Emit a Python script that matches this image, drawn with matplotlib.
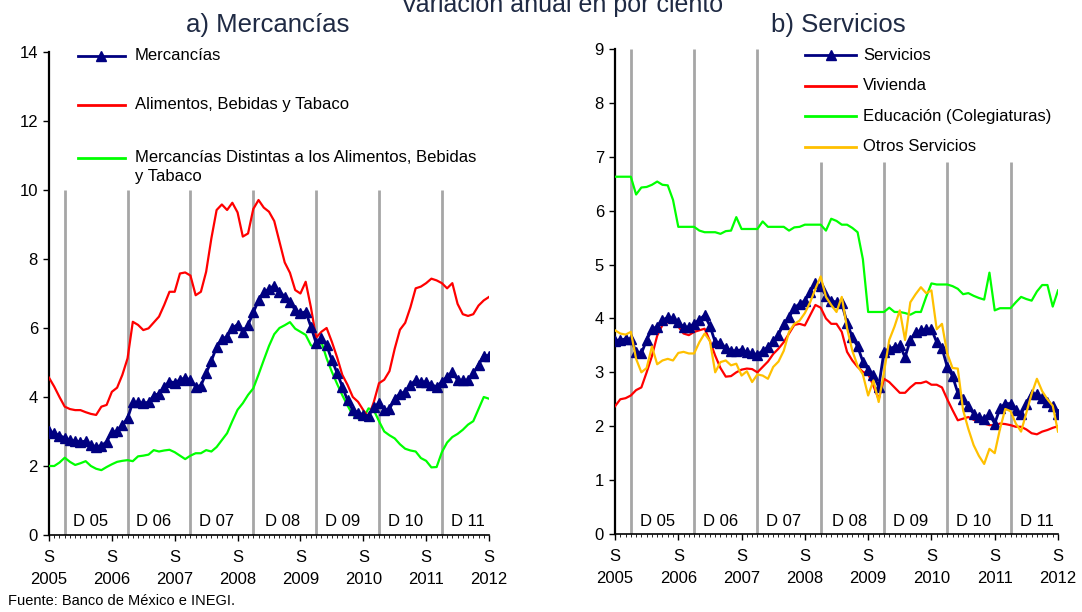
import numpy as np
import matplotlib
matplotlib.use('Agg')
import matplotlib.pyplot as plt

plt.rcParams['font.family'] = ['Liberation Sans', 'DejaVu Sans']

# meses desde sep-2005 hasta sep-2012 (85 observaciones)
x = np.arange(85)
year_ticks = [0, 12, 24, 36, 48, 60, 72, 84]
year_labels = ['S\n2005', 'S\n2006', 'S\n2007', 'S\n2008', 'S\n2009', 'S\n2010', 'S\n2011', 'S\n2012']
dec_idx = [3, 15, 27, 39, 51, 63, 75]
dec_labels = ['D 05', 'D 06', 'D 07', 'D 08', 'D 09', 'D 10', 'D 11']
dec_label_pos = [8, 20, 32, 44.5, 56, 68, 80]

# a) Mercancias
mercancias = [3.02, 2.95, 2.88, 2.82, 2.75, 2.72, 2.7, 2.72, 2.61, 2.56, 2.59, 2.7, 2.98, 3.01,
              3.19, 3.38, 3.85, 3.85, 3.82, 3.85, 4.04, 4.1, 4.3, 4.44, 4.42, 4.49, 4.56, 4.49,
              4.3, 4.33, 4.69, 5.05, 5.45, 5.68, 5.75, 6.0, 6.1, 5.88, 6.09, 6.45, 6.8, 7.03,
              7.13, 7.23, 7.05, 6.91, 6.76, 6.52, 6.43, 6.47, 6.04, 5.56, 5.7, 5.5, 5.07,
              4.7, 4.3, 3.9, 3.62, 3.55, 3.48, 3.45, 3.7, 3.82, 3.62, 3.65, 3.95, 4.1, 4.15,
              4.35, 4.49, 4.44, 4.44, 4.35, 4.3, 4.44, 4.59, 4.72, 4.49, 4.49, 4.49, 4.69,
              4.93, 5.2, 5.2]
alimentos = [4.56, 4.3, 4.0, 3.72, 3.65, 3.62, 3.62, 3.56, 3.51, 3.48, 3.72, 3.77, 4.15, 4.27,
             4.64, 5.12, 6.18, 6.09, 5.94, 5.99, 6.16, 6.33, 6.67, 7.05, 7.05, 7.58, 7.61, 7.52,
             6.95, 7.05, 7.63, 8.6, 9.42, 9.58, 9.42, 9.63, 9.35, 8.65, 8.74, 9.45, 9.71, 9.49,
             9.37, 9.1, 8.5, 7.9, 7.6, 7.1, 7.0, 7.34, 6.6, 5.72, 5.89, 6.0, 5.6,
             5.15, 4.64, 4.35, 4.0, 3.86, 3.62, 3.42, 3.85, 4.4, 4.5, 4.75, 5.4, 5.95, 6.15,
             6.6, 7.15, 7.2, 7.3, 7.43, 7.38, 7.3, 7.15, 7.3, 6.7, 6.4, 6.35, 6.4, 6.65,
             6.8, 6.9]
distintas = [2.0, 2.0, 2.1, 2.24, 2.12, 2.03, 2.08, 2.14, 2.0, 1.92, 1.88, 1.97, 2.05, 2.12,
             2.15, 2.17, 2.14, 2.28, 2.3, 2.33, 2.46, 2.42, 2.45, 2.47, 2.4, 2.3, 2.2, 2.3,
             2.37, 2.37, 2.46, 2.42, 2.55, 2.75, 2.95, 3.3, 3.63, 3.82, 4.06, 4.25, 4.65, 5.07,
             5.48, 5.82, 6.0, 6.08, 6.17, 5.98, 5.89, 5.8, 5.5, 5.42, 5.6, 5.12, 4.73,
             4.38, 4.05, 3.75, 3.48, 3.38, 3.38, 3.67, 3.62, 3.3, 3.0, 2.89, 2.8, 2.63, 2.5,
             2.45, 2.42, 2.23, 2.15, 1.96, 1.97, 2.4, 2.68, 2.84, 2.93, 3.05, 3.2, 3.3, 3.65,
             4.0, 3.95]

# b) Servicios
servicios = [3.59, 3.6, 3.62, 3.62, 3.38, 3.35, 3.6, 3.8, 3.85, 3.97, 4.02, 4.0, 3.93, 3.84,
             3.84, 3.9, 3.98, 4.06, 3.86, 3.56, 3.55, 3.45, 3.4, 3.4, 3.42, 3.37, 3.35, 3.33,
             3.4, 3.47, 3.58, 3.7, 3.9, 4.02, 4.2, 4.27, 4.33, 4.49, 4.66, 4.6, 4.42, 4.33,
             4.3, 4.28, 3.92, 3.65, 3.48, 3.2, 3.05, 2.95, 2.73, 3.38, 3.44, 3.47, 3.5,
             3.28, 3.6, 3.74, 3.78, 3.8, 3.8, 3.56, 3.45, 3.1, 2.93, 2.62, 2.5, 2.37, 2.23,
             2.17, 2.14, 2.22, 2.05, 2.33, 2.42, 2.42, 2.3, 2.23, 2.42, 2.6, 2.6, 2.52, 2.45,
             2.38, 2.22]
vivienda = [2.37, 2.5, 2.52, 2.57, 2.67, 2.72, 3.0, 3.3, 3.68, 3.88, 3.93, 3.99, 3.85, 3.72,
            3.69, 3.75, 3.78, 3.81, 3.58, 3.31, 3.08, 2.92, 2.93, 3.0, 3.05, 3.07, 3.06, 3.0,
            3.1, 3.2, 3.34, 3.44, 3.56, 3.72, 3.88, 3.9, 3.87, 4.06, 4.25, 4.2, 4.0, 3.9,
            3.9, 3.75, 3.38, 3.22, 3.1, 3.01, 2.97, 2.75, 2.5, 2.88, 2.82, 2.72, 2.62,
            2.62, 2.72, 2.8, 2.8, 2.83, 2.77, 2.77, 2.72, 2.5, 2.3, 2.11, 2.14, 2.17, 2.12,
            2.08, 2.05, 2.02, 2.02, 2.05, 2.04, 2.02, 1.99, 1.99, 1.94, 1.87, 1.85, 1.9, 1.93,
            1.97, 2.0]
educacion = [6.63, 6.63, 6.63, 6.63, 6.3, 6.43, 6.44, 6.48, 6.54, 6.48, 6.47, 6.2, 5.7, 5.7,
             5.7, 5.7, 5.63, 5.6, 5.6, 5.6, 5.57, 5.62, 5.63, 5.88, 5.66, 5.66, 5.66, 5.66,
             5.8, 5.7, 5.7, 5.7, 5.7, 5.63, 5.69, 5.7, 5.74, 5.74, 5.74, 5.74, 5.63, 5.85,
             5.81, 5.74, 5.74, 5.68, 5.6, 5.1, 4.12, 4.12, 4.12, 4.12, 4.2, 4.12, 4.12,
             4.1, 4.07, 4.12, 4.12, 4.4, 4.65, 4.63, 4.63, 4.63, 4.6, 4.55, 4.45, 4.47, 4.42,
             4.38, 4.35, 4.85, 4.15, 4.19, 4.19, 4.19, 4.3, 4.4, 4.36, 4.33, 4.5, 4.62, 4.62,
             4.22, 4.52]
otros = [3.78, 3.72, 3.7, 3.75, 3.25, 3.0, 3.08, 3.48, 3.15, 3.22, 3.25, 3.22, 3.36, 3.38,
         3.35, 3.35, 3.56, 3.72, 3.58, 3.0, 3.19, 3.22, 3.13, 3.16, 2.94, 3.02, 2.82, 2.96,
         2.94, 2.88, 3.1, 3.2, 3.4, 3.75, 3.9, 3.96, 4.1, 4.3, 4.55, 4.78, 4.4, 4.25,
         4.12, 4.4, 3.82, 3.4, 3.12, 2.96, 2.57, 2.85, 2.45, 3.0, 3.6, 3.85, 4.15,
         3.6, 4.3, 4.45, 4.58, 4.47, 4.52, 3.8, 3.9, 3.35, 3.08, 3.07, 2.3, 1.95, 1.65,
         1.45, 1.3, 1.58, 1.5, 1.95, 2.32, 2.28, 2.05, 1.9, 2.25, 2.6, 2.88, 2.65, 2.5,
         2.38, 1.9]

NAVY = '#000080'
RED = '#FF0000'
GREEN = '#00FF00'
GOLD = '#FFC000'
GRAY = '#A6A6A6'
TITLE = '#1F2A44'

fig = plt.figure(figsize=(10.82, 6.12), dpi=100)
W, H = 1082, 612
ax1 = fig.add_axes([49 / W, (H - 535) / H, 440 / W, 483 / H])
ax2 = fig.add_axes([615 / W, (H - 534) / H, 443 / W, 485 / H])


def style_axis(ax, ymax, ystep):
    ax.set_xlim(0, 84)
    ax.set_ylim(0, ymax)
    for s in ['top', 'right']:
        ax.spines[s].set_visible(False)
    ax.spines['left'].set_linewidth(1.6)
    ax.spines['bottom'].set_linewidth(1.2)
    ax.set_yticks(np.arange(0, ymax + 0.1, ystep))
    ax.set_xticks(year_ticks)
    ax.set_xticklabels(year_labels, linespacing=1.55)
    ax.set_xticks(x, minor=True)
    ax.tick_params(axis='y', length=4, width=1, labelsize=12, pad=4)
    ax.tick_params(axis='x', which='major', length=4, width=1, labelsize=12, pad=7)
    ax.tick_params(axis='x', which='minor', length=2, width=0.6)


def legend_entry(ax, x0, x1, y, color, label, marker=False, tx=None):
    ax.plot([x0, x1], [y, y], color=color, lw=2, transform=ax.transAxes, clip_on=False)
    if marker:
        ax.plot([(x0 + x1) / 2], [y], marker='^', color=NAVY, ms=7,
                transform=ax.transAxes, clip_on=False)
    ax.text(tx, y, label, fontsize=12, va='center', ha='left', transform=ax.transAxes)


# panel a
ax1.vlines(dec_idx, 0, 10, colors=GRAY, lw=2, zorder=1)
ax1.plot(x, distintas, color=GREEN, lw=1.6, zorder=3)
ax1.plot(x, alimentos, color=RED, lw=1.6, zorder=3)
ax1.plot(x, mercancias, color=NAVY, lw=2, marker='^', ms=6.5, zorder=4)
style_axis(ax1, 14, 2)
for p, lab in zip(dec_label_pos, dec_labels):
    ax1.text(p, 0.38, lab, ha='center', va='center', fontsize=12)

legend_entry(ax1, 0.066, 0.172, (535 - 56) / 483, NAVY, 'Mercancías', marker=True, tx=0.195)
legend_entry(ax1, 0.066, 0.172, (535 - 105) / 483, RED, 'Alimentos, Bebidas y Tabaco', tx=0.195)
legend_entry(ax1, 0.066, 0.172, (535 - 158) / 483, GREEN,
             'Mercancías Distintas a los Alimentos, Bebidas', tx=0.195)
ax1.text(0.195, (535 - 177) / 483, 'y Tabaco', fontsize=12, va='center', ha='left',
         transform=ax1.transAxes)

# panel b
ax2.vlines(dec_idx[:3], 0, 9, colors=GRAY, lw=2, zorder=1)
ax2.vlines(dec_idx[3:], 0, 6.9, colors=GRAY, lw=2, zorder=1)
ax2.plot(x, educacion, color=GREEN, lw=1.6, zorder=3)
ax2.plot(x, vivienda, color=RED, lw=1.6, zorder=3)
ax2.plot(x, servicios, color=NAVY, lw=2, marker='^', ms=6.5, zorder=4)
ax2.plot(x, otros, color=GOLD, lw=1.6, zorder=5)
style_axis(ax2, 9, 1)
for p, lab in zip(dec_label_pos, dec_labels):
    ax2.text(p, 0.24, lab, ha='center', va='center', fontsize=12)

lx0, lx1, ltx = (805 - 615) / 443, (856 - 615) / 443, (863 - 615) / 443
legend_entry(ax2, lx0, lx1, (534 - 55) / 485, NAVY, 'Servicios', marker=True, tx=ltx)
legend_entry(ax2, lx0, lx1, (534 - 85.5) / 485, RED, 'Vivienda', tx=ltx)
legend_entry(ax2, lx0, lx1, (534 - 116) / 485, GREEN, 'Educación (Colegiaturas)', tx=ltx)
legend_entry(ax2, lx0, lx1, (534 - 146.5) / 485, GOLD, 'Otros Servicios', tx=ltx)

# titulos
fig.text(562 / W, 1 - 12 / H, 'Variación anual en por ciento', ha='center', va='baseline',
         fontsize=18, color=TITLE)
fig.text(268 / W, 1 - 25 / H, 'a) Mercancías', ha='center', va='center', fontsize=18.5, color=TITLE)
fig.text(838 / W, 1 - 25 / H, 'b) Servicios', ha='center', va='center', fontsize=18.5, color=TITLE)
fig.text(8 / W, 1 - 601 / H, 'Fuente: Banco de México e INEGI.', ha='left', va='center', fontsize=10.5)

fig.savefig('out.png', dpi=100)
